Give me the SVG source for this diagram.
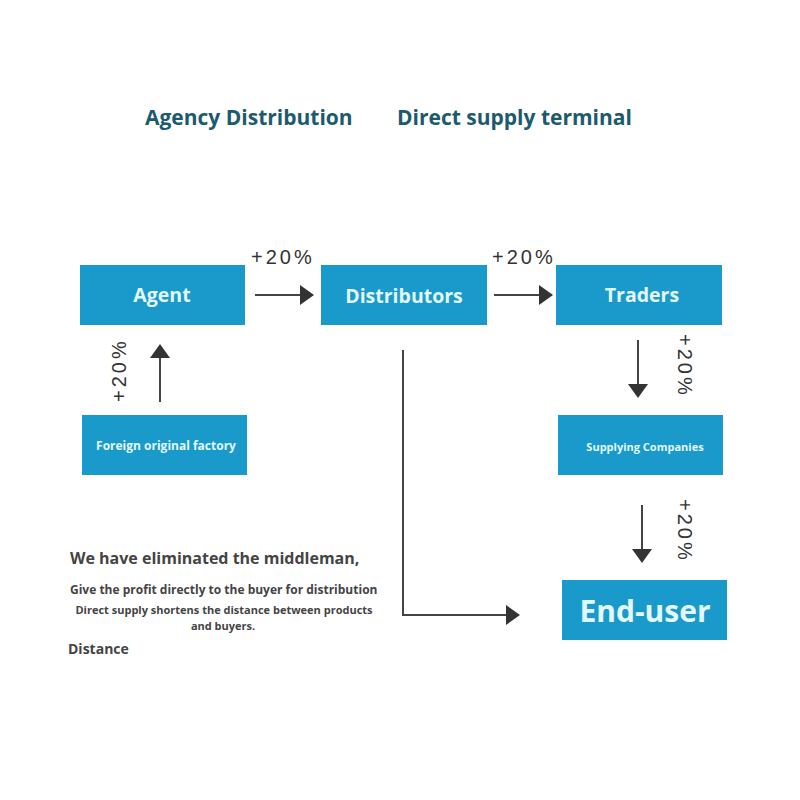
<svg xmlns="http://www.w3.org/2000/svg" width="800" height="800" viewBox="0 0 800 800">
<style>
.box{fill:#1a9acb}
.bt{font-family:"Open Sans","Liberation Sans",sans-serif;font-weight:bold;fill:#e2f8fc;text-anchor:middle}
.title{font-family:"Open Sans","Liberation Sans",sans-serif;font-weight:bold;fill:#1c5a6e;font-size:21px}
.pct{font-family:"Liberation Sans","Open Sans",sans-serif;fill:#333;font-size:20px;letter-spacing:3px}
.line{stroke:#444;stroke-width:2;fill:none}
.note{font-family:"Open Sans","Liberation Sans",sans-serif;font-weight:bold;fill:#444}
</style>
<rect width="800" height="800" fill="#fff"/>
<text class="title" x="145" y="125">Agency Distribution</text>
<text class="title" x="397" y="125">Direct supply terminal</text>

<g id="connectors">
<line class="line" x1="255" y1="295" x2="302" y2="295"/><path d="M300,285 L314,295 L300,305 z" fill="#333"/>
<line class="line" x1="494" y1="295" x2="541" y2="295"/><path d="M539,285 L553,295 L539,305 z" fill="#333"/>
<line class="line" x1="160" y1="402" x2="160" y2="356"/><path d="M150,358 L160,344 L170,358 z" fill="#333"/>
<line class="line" x1="638" y1="340" x2="638" y2="386"/><path d="M628,384 L638,398 L648,384 z" fill="#333"/>
<line class="line" x1="642" y1="505" x2="642" y2="551"/><path d="M632,549 L642,563 L652,549 z" fill="#333"/>
<polyline class="line" points="403,350 403,615 508,615"/><path d="M506,605 L520,615 L506,625 z" fill="#333"/>
<text class="pct" x="251" y="264">+20%</text>
<text class="pct" x="492" y="264">+20%</text>
<text class="pct" transform="translate(126,402) rotate(-90)">+20%</text>
<text class="pct" transform="translate(678,334) rotate(90)">+20%</text>
<text class="pct" transform="translate(678,499) rotate(90)">+20%</text>
</g>

<g id="agent"><rect class="box" x="80" y="265" width="165" height="60"/><text class="bt" x="162" y="302" font-size="19.5">Agent</text></g>
<g id="distributors"><rect class="box" x="321" y="265" width="166" height="60"/><text class="bt" x="404" y="303" font-size="19.5">Distributors</text></g>
<g id="traders"><rect class="box" x="556" y="265" width="166" height="60"/><text class="bt" x="642" y="302" font-size="19.5">Traders</text></g>
<g id="factory"><rect class="box" x="82" y="415" width="165" height="60"/><text class="bt" x="166" y="450" font-size="12">Foreign original factory</text></g>
<g id="supplying"><rect class="box" x="558" y="415" width="165" height="60"/><text class="bt" x="645" y="451" font-size="11">Supplying Companies</text></g>
<g id="enduser"><rect class="box" x="562" y="580" width="165" height="60"/><text class="bt" x="645" y="622" font-size="30">End-user</text></g>

<g id="notes">
<text class="note" x="70" y="564" font-size="16">We have eliminated the middleman,</text>
<text class="note" x="70" y="594" font-size="12">Give the profit directly to the buyer for distribution</text>
<text class="note" x="224" y="614" font-size="11" text-anchor="middle">Direct supply shortens the distance between products</text>
<text class="note" x="223" y="630" font-size="11" text-anchor="middle">and buyers.</text>
<text class="note" x="68" y="654" font-size="14" fill="#333">Distance</text>
</g>
</svg>
